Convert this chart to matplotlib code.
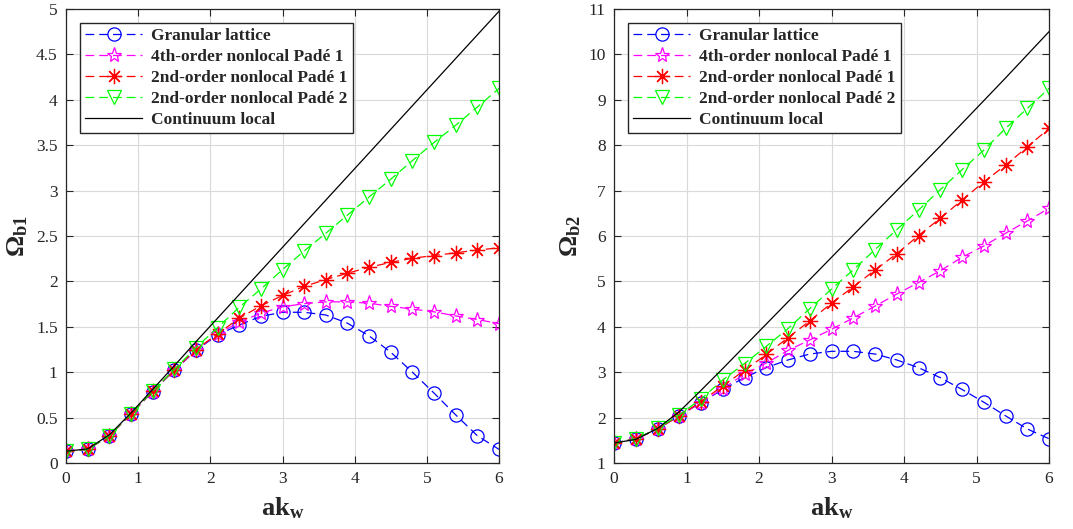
import matplotlib
matplotlib.use("Agg")
import matplotlib.pyplot as plt
from matplotlib.ticker import MultipleLocator, FuncFormatter

plt.rcParams['font.family'] = ['Liberation Serif', 'DejaVu Serif']
plt.rcParams['mathtext.fontset'] = 'custom'
plt.rcParams['mathtext.rm'] = 'Liberation Serif'
plt.rcParams['mathtext.it'] = 'Liberation Serif:italic'
plt.rcParams['mathtext.bf'] = 'Liberation Serif:bold'

# ---- data ----
ak_w = [0.0, 0.3, 0.6, 0.9, 1.2, 1.5, 1.8, 2.1, 2.4, 2.7, 3.0,
        3.3, 3.6, 3.9, 4.2, 4.5, 4.8, 5.1, 5.4, 5.7, 6.0]

labels = ['Granular lattice', '4th-order nonlocal Padé 1',
          '2nd-order nonlocal Padé 1', '2nd-order nonlocal Padé 2',
          'Continuum local']

# Left panel: Omega_b1
granular_b1 = [0.13, 0.15, 0.30, 0.54, 0.785, 1.02, 1.24, 1.41, 1.52, 1.615, 1.66,
               1.66, 1.63, 1.54, 1.40, 1.22, 1.00, 0.77, 0.53, 0.30, 0.15]
pade4_1_b1 = [0.13, 0.15, 0.30, 0.54, 0.785, 1.02, 1.245, 1.42, 1.55, 1.65, 1.72,
              1.755, 1.775, 1.775, 1.76, 1.725, 1.695, 1.665, 1.62, 1.58, 1.535]
pade2_1_b1 = [0.13, 0.15, 0.30, 0.54, 0.79, 1.025, 1.25, 1.42, 1.595, 1.73, 1.845,
              1.945, 2.02, 2.09, 2.155, 2.21, 2.255, 2.285, 2.315, 2.345, 2.37]
pade2_2_b1 = [0.13, 0.15, 0.30, 0.545, 0.79, 1.03, 1.27, 1.49, 1.715, 1.915, 2.13,
              2.335, 2.53, 2.73, 2.93, 3.125, 3.33, 3.53, 3.72, 3.92, 4.125]
cont_b1 = [0.13, 0.155, 0.31, 0.55, 0.81, 1.07, 1.335, 1.595, 1.855, 2.115, 2.375,
           2.635, 2.895, 3.155, 3.415, 3.675, 3.935, 4.195, 4.455, 4.715, 4.975]

# Right panel: Omega_b2
granular_b2 = [1.44, 1.53, 1.75, 2.04, 2.33, 2.62, 2.88, 3.10, 3.27, 3.40, 3.46,
               3.46, 3.40, 3.27, 3.10, 2.88, 2.62, 2.34, 2.04, 1.75, 1.535]
pade4_1_b2 = [1.44, 1.53, 1.75, 2.04, 2.33, 2.64, 2.96, 3.20, 3.48, 3.71, 3.945,
              4.195, 4.455, 4.72, 4.975, 5.235, 5.53, 5.78, 6.06, 6.33, 6.61]
pade2_1_b2 = [1.44, 1.53, 1.75, 2.04, 2.35, 2.70, 3.04, 3.39, 3.76, 4.13, 4.52,
              4.88, 5.25, 5.61, 6.01, 6.39, 6.79, 7.19, 7.56, 7.96, 8.37]
pade2_2_b2 = [1.44, 1.53, 1.76, 2.06, 2.41, 2.83, 3.19, 3.57, 3.96, 4.40, 4.83,
              5.255, 5.70, 6.14, 6.57, 7.02, 7.46, 7.89, 8.37, 8.81, 9.25]
cont_b2 = [1.44, 1.52, 1.76, 2.13, 2.60, 3.08, 3.57, 4.06, 4.55, 5.04, 5.53,
           6.02, 6.51, 7.00, 7.49, 7.98, 8.48, 8.98, 9.48, 9.99, 10.50]

# ---- figure ----
fig = plt.figure(figsize=(10.73, 5.29), dpi=100)
ax1 = fig.add_axes([66/1073, 66/529, 433/1073, 454/529])
ax2 = fig.add_axes([614/1073, 66/529, 435/1073, 454/529])

tc = '#262626'
dash = (0, (7, 4))

def fmt(v, pos):
    s = ('%.1f' % v)
    if s.endswith('.0'):
        s = s[:-2]
    return s

def draw(ax, series, cont, ylim, ystep, ylabel):
    gran, p41, p21, p22 = series
    ax.plot(ak_w, gran, color=(0, 0, 1), linestyle=dash, lw=0.9, marker='o',
            ms=9.5, mfc='none', mew=0.9, label=labels[0])
    ax.plot(ak_w, p41, color=(1, 0, 1), linestyle=dash, lw=0.9, marker='*',
            ms=11, mfc='none', mew=0.9, label=labels[1])
    ax.plot(ak_w, p21, color=(1, 0, 0), linestyle=dash, lw=0.9, marker=(8, 2, 0),
            ms=11, mfc='none', mew=0.9, label=labels[2])
    ax.plot(ak_w, p22, color=(0, 1, 0), linestyle=dash, lw=0.9, marker='v',
            ms=10, mfc='none', mew=0.9, label=labels[3])
    ax.plot(ak_w, cont, color='k', linestyle='-', lw=0.9, label=labels[4])

    ax.set_xlim(0, 6)
    ax.set_ylim(*ylim)
    ax.xaxis.set_major_locator(MultipleLocator(1))
    ax.yaxis.set_major_locator(MultipleLocator(ystep))
    ax.yaxis.set_major_formatter(FuncFormatter(fmt))
    ax.grid(True, color='#d9d9d9', lw=0.8)
    ax.set_axisbelow(True)
    ax.tick_params(direction='in', top=True, right=True, length=5, width=0.8,
                   colors=tc, labelsize=12.5, pad=6)
    for sp in ax.spines.values():
        sp.set_color(tc)
        sp.set_linewidth(0.9)
    ax.set_xlabel(r'$\mathbf{ak}_{\mathbf{w}}$', fontsize=19, color=tc, labelpad=6)
    ax.set_ylabel(ylabel, fontsize=19, color=tc, labelpad=4)
    leg = ax.legend(loc='upper left', bbox_to_anchor=(0.032, 0.97),
                    prop={'family': 'Liberation Serif', 'weight': 'bold', 'size': 12.5},
                    frameon=True, fancybox=False, framealpha=1, edgecolor='#262626',
                    handlelength=3.3, handletextpad=0.5, borderpad=0.3,
                    labelspacing=0.28, borderaxespad=0.0)
    leg.get_frame().set_linewidth(1.0)
    for t in leg.get_texts():
        t.set_color(tc)

draw(ax1, (granular_b1, pade4_1_b1, pade2_1_b1, pade2_2_b1), cont_b1,
     (0, 5), 0.5, r'$\mathbf{\Omega}_{\mathbf{b1}}$')
draw(ax2, (granular_b2, pade4_1_b2, pade2_1_b2, pade2_2_b2), cont_b2,
     (1, 11), 1, r'$\mathbf{\Omega}_{\mathbf{b2}}$')

fig.savefig('out.png', dpi=100)
